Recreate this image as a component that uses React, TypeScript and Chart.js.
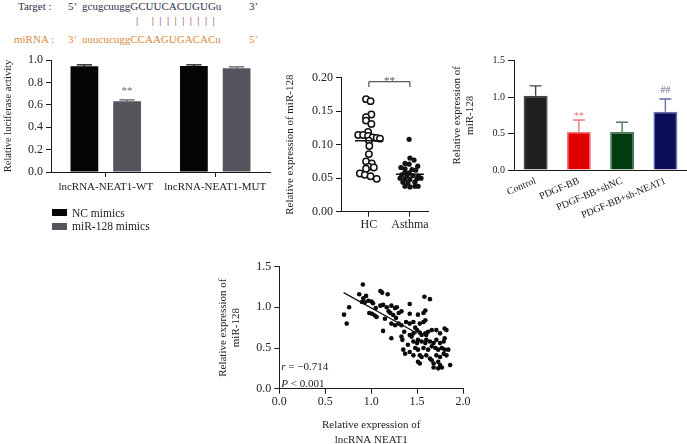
import React, { useEffect, useRef } from "react";
import { Chart, registerables } from "chart.js";

Chart.register(...registerables);

const W = 687;
const H = 444;
const SERIF = "'Liberation Serif', 'Times New Roman', Times, serif";
const INK = "#222";
const AXIS = "#1a1a1a";

// ---------- sequence header ----------
const targetLabel = "Target :";
const targetSeq = "gcugcuuggGCUUCACUGUGu";
const mirnaLabel = "miRNA :";
const mirnaSeq = "uuucucuggCCAAGUGACACu";
const pairBars = "| |||||||||";

// ---------- panel A: luciferase ----------
const lucCategories = ["lncRNA-NEAT1-WT", "lncRNA-NEAT1-MUT"];
const lucSeriesNames = ["NC mimics", "miR-128 mimics"];
const lucNC = [0.945, 0.946];
const lucMiR = [0.632, 0.926];
const lucNCErr = [0.012, 0.01];
const lucMiRErr = [0.012, 0.012];
const lucMiRSig = ["**", ""];
const lucTickStep = 0.2;

// ---------- panel B: dot plot ----------
const dotGroups = ["HC", "Asthma"];
const hcValues = [0.168, 0.165, 0.145, 0.141, 0.136, 0.131, 0.119, 0.1145, 0.1145, 0.113, 0.111, 0.11, 0.109, 0.106, 0.098, 0.086, 0.075, 0.072, 0.067, 0.066, 0.064, 0.057, 0.055, 0.053, 0.049];
const hcJitter = [-0.07, 0.04, 0.06, -0.07, -0.07, 0.06, -0.02, -0.26, -0.14, -0.02, 0.09, 0.19, 0.27, 0.0, 0.01, 0.0, -0.07, 0.07, 0.0, 0.12, -0.07, -0.22, -0.1, 0.04, 0.19];
const asthmaValues = [0.108, 0.08, 0.077, 0.072, 0.071, 0.068, 0.066, 0.064, 0.063, 0.062, 0.059, 0.058, 0.055, 0.054, 0.054, 0.053, 0.05, 0.049, 0.048, 0.049, 0.05, 0.044, 0.043, 0.044, 0.038, 0.037, 0.038, 0.038];
const asthmaJitter = [-0.02, 0, 0.1, -0.12, -0.02, 0.19, -0.22, -0.12, 0.05, 0.14, -0.12, -0.02, -0.2, -0.07, 0.07, 0.2, -0.24, -0.12, 0, 0.17, 0.27, -0.17, -0.05, 0.12, -0.12, 0, 0.12, 0.2];
const dotMeans = [0.106, 0.056];
const dotSig = "**";

// ---------- panel C: PDGF-BB ----------
const pdgfCategories = ["Control", "PDGF-BB", "PDGF-BB+shNC", "PDGF-BB+sh-NEAT1"];
const pdgfValues = [1.02, 0.526, 0.52, 0.8];
const pdgfErr = [0.135, 0.16, 0.135, 0.175];
const pdgfSig = ["", "**", "", "##"];

// ---------- panel D: correlation ----------
const corrX = [0.91, 1.1, 1.12, 1.18, 1.58, 1.64, 0.945, 0.915, 0.87, 0.705, 0.76, 0.734, 0.9, 0.93, 0.97, 1.005, 1.02, 1.1, 1.13, 1.17, 1.22, 1.26, 1.28, 1.42, 1.33, 0.98, 1.01, 1.04, 1.06, 1.19, 1.21, 1.24, 1.3, 1.42, 1.51, 1.57, 1.59, 1.22, 1.26, 1.3, 1.33, 1.42, 1.46, 1.53, 1.57, 1.59, 1.13, 1.22, 1.33, 1.34, 1.42, 1.44, 1.46, 1.5, 1.53, 1.55, 1.59, 1.6, 1.62, 1.66, 1.71, 1.75, 1.8, 1.82, 1.46, 1.5, 1.51, 1.55, 1.59, 1.6, 1.64, 1.68, 1.71, 1.75, 1.79, 1.8, 1.48, 1.51, 1.57, 1.62, 1.66, 1.7, 1.73, 1.77, 1.8, 1.84, 1.35, 1.37, 1.42, 1.46, 1.53, 1.55, 1.6, 1.64, 1.71, 1.75, 1.79, 1.82, 1.51, 1.53, 1.66, 1.68, 1.73, 1.75, 1.68, 1.73, 1.77, 1.86, 1.05, 1.15, 1.27, 1.38, 1.48, 1.36, 1.4];
const corrY = [1.28, 1.2, 1.18, 1.16, 1.13, 1.1, 1.14, 1.11, 1.16, 0.91, 1.0, 0.8, 1.065, 1.06, 1.08, 1.07, 1.05, 1.02, 1.03, 1.0, 1.02, 0.99, 1.0, 1.04, 0.95, 0.93, 0.92, 0.9, 0.88, 0.95, 0.93, 0.905, 0.93, 0.92, 0.91, 0.93, 0.96, 0.8, 0.78, 0.8, 0.78, 0.8, 0.82, 0.8, 0.82, 0.84, 0.71, 0.62, 0.64, 0.6, 0.66, 0.64, 0.68, 0.72, 0.69, 0.66, 0.68, 0.66, 0.7, 0.72, 0.72, 0.68, 0.74, 0.72, 0.58, 0.56, 0.6, 0.58, 0.56, 0.6, 0.58, 0.56, 0.6, 0.56, 0.58, 0.62, 0.5, 0.48, 0.5, 0.48, 0.52, 0.5, 0.48, 0.5, 0.48, 0.48, 0.48, 0.43, 0.45, 0.41, 0.41, 0.39, 0.41, 0.37, 0.41, 0.39, 0.43, 0.41, 0.33, 0.31, 0.35, 0.31, 0.33, 0.29, 0.26, 0.25, 0.26, 0.29, 0.99, 0.86, 0.87, 0.82, 0.75, 0.7, 0.54];
const fitLineX = [0.7, 1.5];
const fitLineY = [1.18, 0.68];
const corrR = "−0.714";
const corrP = "< 0.001";

// ---------- helpers ----------
function frame(left: number, top: number, right: number, bottom: number) {
  return {
    padding: { left: 0, top, right: W - right, bottom: 0 },
    yFit: (s: any) => { s.width = left; },
    xFit: (s: any) => { s.height = H - bottom; },
  };
}
const font = (size: number, style = "normal") => ({ family: SERIF, size, style, lineHeight: 1.2 });
const border = { display: true, color: AXIS, width: 1 };
const gridTicks = (len: number) => ({ display: true, drawOnChartArea: false, drawTicks: true, tickLength: len, color: AXIS, lineWidth: 1, offset: false });

const errorBarPlugin = {
  id: "errorBars",
  afterDatasetsDraw(chart: any) {
    const ctx = chart.ctx;
    const ys = chart.scales.y;
    chart.data.datasets.forEach((ds: any, di: number) => {
      if (!ds.errors) return;
      const meta = chart.getDatasetMeta(di);
      meta.data.forEach((bar: any, i: number) => {
        const top = ys.getPixelForValue(ds.data[i] + ds.errors[i]);
        const cap = bar.width * (ds.capRatio || 0.5);
        const col = Array.isArray(ds.errorColor) ? ds.errorColor[i] : ds.errorColor;
        ctx.save();
        ctx.strokeStyle = col;
        ctx.lineWidth = ds.errorWidth || 1.2;
        ctx.beginPath();
        ctx.moveTo(bar.x, bar.y);
        ctx.lineTo(bar.x, top);
        ctx.moveTo(bar.x - cap / 2, top);
        ctx.lineTo(bar.x + cap / 2, top);
        ctx.stroke();
        const s = ds.sig && ds.sig[i];
        if (s) {
          ctx.fillStyle = Array.isArray(ds.sigColor) ? ds.sigColor[i] : ds.sigColor;
          ctx.font = `${ds.sigSize || 11}px ${SERIF}`;
          ctx.textAlign = "center";
          ctx.textBaseline = "alphabetic";
          ctx.fillText(s, bar.x, top - (Array.isArray(ds.sigGap) ? ds.sigGap[i] : ds.sigGap));
        }
        ctx.restore();
      });
    });
  },
};

function makeLuc() {
  const f = frame(51, 60, 270, 172);
  return {
    type: "bar",
    data: {
      labels: lucCategories,
      datasets: [
        { label: lucSeriesNames[0], data: lucNC, backgroundColor: "#050505", errors: lucNCErr, errorColor: "#050505", capRatio: 0.55 },
        { label: lucSeriesNames[1], data: lucMiR, backgroundColor: "#56555e", errors: lucMiRErr, errorColor: "#56555e", capRatio: 0.55, sig: lucMiRSig, sigColor: "#6a6a6a", sigGap: 5.5, sigSize: 11 },
      ],
    },
    options: {
      responsive: false, animation: false, devicePixelRatio: 1,
      layout: { padding: f.padding },
      plugins: { legend: { display: false }, tooltip: { enabled: false } },
      datasets: { bar: { categoryPercentage: 0.78, barPercentage: 0.65 } },
      scales: {
        x: {
          offset: true, afterFit: f.xFit, grid: gridTicks(5), border,
          ticks: { font: font(11), color: INK, padding: 4, maxRotation: 0, autoSkip: false },
        },
        y: {
          min: 0, max: 1, afterFit: f.yFit, grid: gridTicks(5), border,
          ticks: { stepSize: lucTickStep, font: font(12), color: INK, padding: 3, callback: (v: number) => v.toFixed(1) },
          title: { display: true, text: "Relative luciferase activity", font: font(10.5), color: INK, padding: { top: 1.7, bottom: 0 } },
        },
      },
    },
    plugins: [errorBarPlugin],
  };
}

function makeDots() {
  const f = frame(341, 77.7, 428, 211.7);
  const bracketPlugin = {
    id: "bracket",
    afterDatasetsDraw(chart: any) {
      const { ctx, scales: { x, y } } = chart;
      const x0 = x.getPixelForValue(0), x1 = x.getPixelForValue(1);
      const yb = y.getPixelForValue(0.194), yd = y.getPixelForValue(0.186);
      ctx.save();
      ctx.strokeStyle = "#333";
      ctx.lineWidth = 1;
      ctx.beginPath();
      ctx.moveTo(x0, yd); ctx.lineTo(x0, yb); ctx.lineTo(x1, yb); ctx.lineTo(x1, yd);
      ctx.stroke();
      ctx.fillStyle = "#555";
      ctx.font = `11px ${SERIF}`;
      ctx.textAlign = "center";
      ctx.textBaseline = "alphabetic";
      ctx.fillText(dotSig, (x0 + x1) / 2, yb + 2);
      ctx.restore();
    },
  };
  const meanLine = (g: number) => ({
    data: [{ x: g - 0.34, y: dotMeans[g] }, { x: g + 0.34, y: dotMeans[g] }],
    showLine: true, pointRadius: 0, borderColor: "#111", borderWidth: 1.6,
  });
  return {
    type: "scatter",
    data: {
      datasets: [
        meanLine(0),
        meanLine(1),
        { label: dotGroups[0], data: hcValues.map((v, i) => ({ x: 0 + hcJitter[i], y: v })), pointRadius: 3.2, backgroundColor: "#fff", borderColor: "#111", borderWidth: 1.5 },
        { label: dotGroups[1], data: asthmaValues.map((v, i) => ({ x: 1 + asthmaJitter[i], y: v })), pointRadius: 2.6, backgroundColor: "#111", borderColor: "#111", borderWidth: 0 },
      ],
    },
    options: {
      responsive: false, animation: false, devicePixelRatio: 1,
      layout: { padding: f.padding },
      plugins: { legend: { display: false }, tooltip: { enabled: false } },
      scales: {
        x: {
          type: "linear", min: -0.68, max: 1.44, afterFit: f.xFit, grid: gridTicks(5), border,
          afterBuildTicks: (s: any) => { s.ticks = dotGroups.map((_, i) => ({ value: i })); },
          ticks: { font: font(12), color: INK, padding: 1, callback: (_v: number, i: number) => dotGroups[i] },
        },
        y: {
          min: 0, max: 0.2, afterFit: f.yFit, grid: gridTicks(5), border,
          ticks: { stepSize: 0.05, font: font(12), color: INK, padding: 3, callback: (v: number) => v.toFixed(2) },
          title: { display: true, text: "Relative expression of miR-128", font: font(11), color: INK, padding: { top: 283.4, bottom: 0 } },
        },
      },
    },
    plugins: [bracketPlugin],
  };
}

function makePdgf() {
  const f = frame(514, 60.7, 687, 170);
  return {
    type: "bar",
    data: {
      labels: pdgfCategories,
      datasets: [
        {
          data: pdgfValues,
          backgroundColor: ["#1f1f1f", "#e00000", "#003c12", "#0b0d58"],
          borderColor: ["#454545", "#f07a7a", "#4f7d5e", "#6470a8"],
          borderWidth: 1.5,
          errors: pdgfErr,
          errorColor: ["#454545", "#f07a7a", "#4f7d5e", "#6470a8"],
          errorWidth: 1.4,
          capRatio: 0.5,
          sig: pdgfSig,
          sigColor: ["", "#e07070", "", "#6a6f9a"],
          sigGap: [1, 1, 1, 5.5],
          sigSize: 10,
        },
      ],
    },
    options: {
      responsive: false, animation: false, devicePixelRatio: 1,
      layout: { padding: f.padding },
      plugins: { legend: { display: false }, tooltip: { enabled: false } },
      datasets: { bar: { categoryPercentage: 1, barPercentage: 0.555 } },
      scales: {
        x: {
          offset: true, afterFit: f.xFit, border,
          grid: { display: true, drawOnChartArea: false, drawTicks: false, color: AXIS },
          ticks: { font: font(10), color: INK, padding: 5, minRotation: 23, maxRotation: 23, autoSkip: false },
        },
        y: {
          min: 0, max: 1.5, afterFit: f.yFit, grid: gridTicks(6), border,
          ticks: { stepSize: 0.5, font: font(10), color: INK, padding: 3, callback: (v: number) => v.toFixed(1) },
          title: { display: true, text: ["Relative expression of", "miR-128"], font: font(11), color: INK, padding: { top: 450.4, bottom: 0 } },
        },
      },
    },
    plugins: [errorBarPlugin],
  };
}

function makeCorr() {
  const f = frame(279.3, 266.6, 463, 388.7);
  const statsPlugin = {
    id: "stats",
    afterDatasetsDraw(chart: any) {
      const { ctx, chartArea } = chart;
      const x0 = chartArea.left + 2;
      const draw = (italic: string, rest: string, y: number) => {
        ctx.font = `italic 11px ${SERIF}`;
        ctx.fillText(italic, x0, y);
        const w = ctx.measureText(italic).width;
        ctx.font = `11px ${SERIF}`;
        ctx.fillText(rest, x0 + w, y);
      };
      ctx.save();
      ctx.fillStyle = INK;
      ctx.textAlign = "left";
      ctx.textBaseline = "middle";
      draw("r", " = " + corrR, 367.3 - 0 * chartArea.top);
      draw("P", " " + corrP, 384);
      ctx.restore();
    },
  };
  return {
    type: "scatter",
    data: {
      datasets: [
        { data: fitLineX.map((x, i) => ({ x, y: fitLineY[i] })), showLine: true, pointRadius: 0, borderColor: "#111", borderWidth: 1.2 },
        { data: corrX.map((x, i) => ({ x, y: corrY[i] })), pointRadius: 2.3, backgroundColor: "#0a0a0a", borderWidth: 0 },
      ],
    },
    options: {
      responsive: false, animation: false, devicePixelRatio: 1,
      layout: { padding: f.padding },
      plugins: { legend: { display: false }, tooltip: { enabled: false } },
      scales: {
        x: {
          type: "linear", min: 0, max: 2, afterFit: f.xFit, grid: gridTicks(5), border,
          ticks: { stepSize: 0.5, font: font(12), color: INK, padding: 1, callback: (v: number) => v.toFixed(1) },
          title: { display: true, text: ["Relative expression of", "lncRNA NEAT1"], font: { family: SERIF, size: 11, lineHeight: 1.3 }, color: INK, padding: { top: 0, bottom: -3 } },
        },
        y: {
          min: 0, max: 1.5, afterFit: f.yFit, grid: gridTicks(5), border,
          ticks: { stepSize: 0.5, font: font(12), color: INK, padding: 3, callback: (v: number) => v.toFixed(1) },
          title: { display: true, text: ["Relative expression of", "miR-128"], font: font(11), color: INK, padding: { top: 216.4, bottom: 0 } },
        },
      },
    },
    plugins: [statsPlugin],
  };
}

function ChartCanvas({ make }: { make: () => any }) {
  const ref = useRef<HTMLCanvasElement>(null);
  useEffect(() => {
    const chart = new Chart(ref.current as HTMLCanvasElement, make());
    return () => chart.destroy();
  }, []);
  return (
    <canvas
      ref={ref}
      width={W}
      height={H}
      style={{ position: "absolute", left: 0, top: 0, width: W, height: H }}
    />
  );
}

const txt = (left: number, top: number, color: string, size: number, extra: any = {}) => ({
  position: "absolute" as const,
  left,
  top,
  color,
  fontFamily: SERIF,
  fontSize: size,
  lineHeight: "14px",
  whiteSpace: "pre" as const,
  ...extra,
});

export default function App() {
  const navy = "#2e2e4a";
  const orange = "#d98a3d";
  const legendColors = ["#050505", "#56555e"];
  return (
    <div style={{ position: "absolute", left: 0, top: 0, width: W, height: H, background: "#fff", overflow: "hidden" }}>
      <div style={txt(18, -1, navy, 11)}>{targetLabel}</div>
      <div style={txt(68, -1, navy, 11)}>5’</div>
      <div style={txt(82, -1, navy, 11)}>{targetSeq}</div>
      <div style={txt(249, -1, navy, 11)}>3’</div>
      <div style={txt(136, 13, "#7d3b4c", 11, { letterSpacing: "5.4px" })}>{pairBars}</div>
      <div style={txt(14, 32, orange, 11)}>{mirnaLabel}</div>
      <div style={txt(68, 32, orange, 11)}>3’</div>
      <div style={txt(82, 32, orange, 11)}>{mirnaSeq}</div>
      <div style={txt(249, 32, orange, 11)}>5’</div>

      <ChartCanvas make={makeLuc} />
      <ChartCanvas make={makeDots} />
      <ChartCanvas make={makePdgf} />
      <ChartCanvas make={makeCorr} />

      {lucSeriesNames.map((name, i) => (
        <div key={name}>
          <div style={{ position: "absolute", left: 52, top: 209 + i * 13.5, width: 15, height: 7, background: legendColors[i] }} />
          <div style={txt(72, 205.5 + i * 13.5, INK, 11.5)}>{name}</div>
        </div>
      ))}
    </div>
  );
}
